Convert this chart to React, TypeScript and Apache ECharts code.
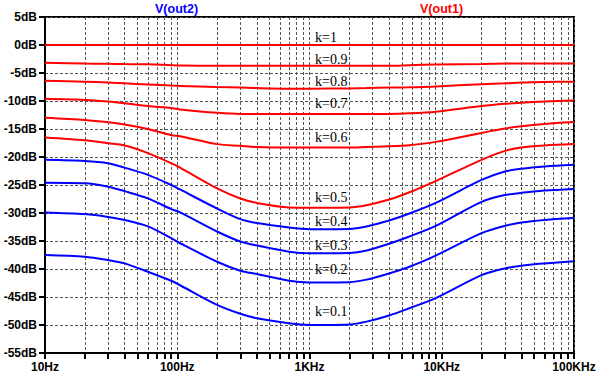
import React, { useEffect, useRef } from "react";
import * as echarts from "echarts";

const freqs = [10, 20, 30, 40, 60, 90, 105, 200, 300, 400, 700, 1000, 2000, 2700, 4000, 5700, 9000, 20000, 30000, 40000, 60000, 100000];

const k10 = [0, 0, 0, 0, 0, 0, 0, 0, 0, 0, 0, 0, 0, 0, 0, 0, 0, 0, 0, 0, 0, 0];
const k09 = [-3.15, -3.3, -3.35, -3.4, -3.45, -3.6, -3.65, -3.7, -3.7, -3.7, -3.7, -3.7, -3.7, -3.7, -3.7, -3.6, -3.5, -3.4, -3.3, -3.3, -3.3, -3.3];
const k08 = [-6.4, -6.55, -6.7, -6.85, -7.05, -7.25, -7.3, -7.5, -7.6, -7.7, -7.8, -7.8, -7.75, -7.7, -7.6, -7.55, -7.4, -7.0, -6.85, -6.7, -6.6, -6.55];
const k07 = [-9.6, -9.8, -10.1, -10.4, -10.9, -11.25, -11.5, -12.1, -12.3, -12.3, -12.3, -12.3, -12.3, -12.3, -12.3, -12.2, -11.9, -10.9, -10.5, -10.3, -10.1, -9.9];
const k06 = [-13.0, -13.4, -13.8, -14.2, -15.0, -16.1, -16.3, -17.7, -18.0, -18.2, -18.3, -18.3, -18.3, -18.2, -18.1, -17.9, -17.3, -15.7, -14.9, -14.5, -14.1, -13.75];
const k05 = [-16.5, -17.0, -17.55, -17.95, -19.3, -21.1, -21.9, -25.6, -27.4, -28.2, -29.0, -29.05, -29.0, -28.6, -27.6, -26.3, -24.3, -20.5, -18.9, -18.3, -17.95, -17.7];
const k04 = [-20.5, -20.7, -21.1, -21.9, -23.2, -25.0, -25.8, -29.2, -31.1, -31.8, -32.6, -32.9, -32.85, -32.4, -31.35, -30.1, -28.2, -24.1, -22.6, -22.1, -21.7, -21.4];
const k03 = [-24.6, -24.7, -25.3, -26.1, -27.4, -29.3, -29.9, -33.3, -35.1, -35.8, -36.9, -37.2, -37.15, -36.7, -35.5, -34.2, -32.3, -28.0, -26.8, -26.4, -26.0, -25.7];
const k02 = [-29.9, -30.2, -30.7, -31.25, -32.4, -34.5, -35.4, -38.7, -40.3, -40.9, -42.1, -42.4, -42.35, -41.9, -40.8, -39.6, -37.6, -33.6, -32.3, -31.7, -31.25, -30.9];
const k01 = [-37.5, -37.8, -38.4, -39.0, -40.5, -42.1, -42.9, -46.4, -48.0, -48.8, -49.7, -50.0, -49.9, -49.4, -48.3, -47.0, -45.2, -41.1, -39.9, -39.4, -39.0, -38.6];

const curveNames = ["k=1", "k=0.9", "k=0.8", "k=0.7", "k=0.6", "k=0.5", "k=0.4", "k=0.3", "k=0.2", "k=0.1"];
const curveValues = [k10, k09, k08, k07, k06, k05, k04, k03, k02, k01];
const curveIsOut1 = [true, true, true, true, true, true, false, false, false, false];

const xTickValues = [
  10, 20, 30, 40, 50, 60, 70, 80, 90,
  100, 200, 300, 400, 500, 600, 700, 800, 900,
  1000, 2000, 3000, 4000, 5000, 6000, 7000, 8000, 9000,
  10000, 20000, 30000, 40000, 50000, 60000, 70000, 80000, 90000,
  100000,
];
const xLabelValues = [10, 100, 1000, 10000, 100000];
const xLabelText: Record<number, string> = { 10: "10Hz", 100: "100Hz", 1000: "1KHz", 10000: "10KHz", 100000: "100KHz" };

const annotationY = [37, 59, 81, 103, 137, 197, 221, 245, 269, 311];

export default function App() {
  const ref = useRef<HTMLDivElement>(null);
  useEffect(() => {
    if (!ref.current) return;
    const chart = echarts.init(ref.current, undefined, { renderer: "svg" });
    const labelFont = "Arial, 'Liberation Sans', sans-serif";
    const series = curveValues.map((vals, i) => ({
      type: "line",
      name: curveNames[i],
      data: freqs.map((f, j) => [f, vals[j]]),
      showSymbol: false,
      smooth: 0.3,
      lineStyle: { color: curveIsOut1[i] ? "#ff0000" : "#0000ff", width: 2 },
      itemStyle: { color: curveIsOut1[i] ? "#ff0000" : "#0000ff" },
      silent: true,
    }));
    const graphic: any[] = [
      {
        type: "text",
        style: { text: "V(out2)", x: 155, y: 9, fill: "#0000ff", font: `bold 12.5px ${labelFont}`, verticalAlign: "middle" },
      },
      {
        type: "text",
        style: { text: "V(out1)", x: 420, y: 9, fill: "#ff0000", font: `bold 12.5px ${labelFont}`, verticalAlign: "middle" },
      },
    ];
    curveNames.forEach((n, i) => {
      graphic.push({
        type: "text",
        z: 10,
        style: {
          text: n,
          x: 315,
          y: annotationY[i],
          fill: "#000",
          font: "14px 'Liberation Serif', 'Times New Roman', serif",
          verticalAlign: "middle",
        },
      });
    });
    chart.setOption({
      animation: false,
      grid: { left: 45, right: 26, top: 17, bottom: 25, show: true, borderColor: "#000", borderWidth: 2, backgroundColor: "#fff" },
      xAxis: {
        type: "log",
        logBase: 10,
        min: 10,
        max: 100000,
        axisLine: { show: true, onZero: false, lineStyle: { color: "#000", width: 2 } },
        axisTick: { show: true, inside: false, length: 6, lineStyle: { color: "#000", width: 2 }, customValues: xTickValues },
        minorTick: { show: false },
        splitLine: { show: true, lineStyle: { color: "#555", width: 1, type: [3, 2] } },
        axisLabel: {
          customValues: xLabelValues,
          formatter: (v: number) => xLabelText[Math.round(v)] || "",
          color: "#000",
          fontWeight: "bold",
          fontSize: 12,
          fontFamily: labelFont,
          margin: 8,
        },
      },
      yAxis: {
        type: "value",
        min: -55,
        max: 5,
        interval: 5,
        axisLine: { show: true, onZero: false, lineStyle: { color: "#000", width: 2 } },
        axisTick: { show: true, inside: false, length: 6, lineStyle: { color: "#000", width: 2 } },
        splitLine: { show: true, lineStyle: { color: "#555", width: 1, type: [3, 2] } },
        axisLabel: {
          formatter: (v: number) => `${v}dB`,
          color: "#000",
          fontWeight: "bold",
          fontSize: 12,
          fontFamily: labelFont,
          margin: 8,
        },
      },
      series,
      graphic,
    });
    return () => chart.dispose();
  }, []);
  return <div ref={ref} style={{ position: "fixed", left: 0, top: 0, width: 600, height: 378, background: "#fff" }} />;
}
